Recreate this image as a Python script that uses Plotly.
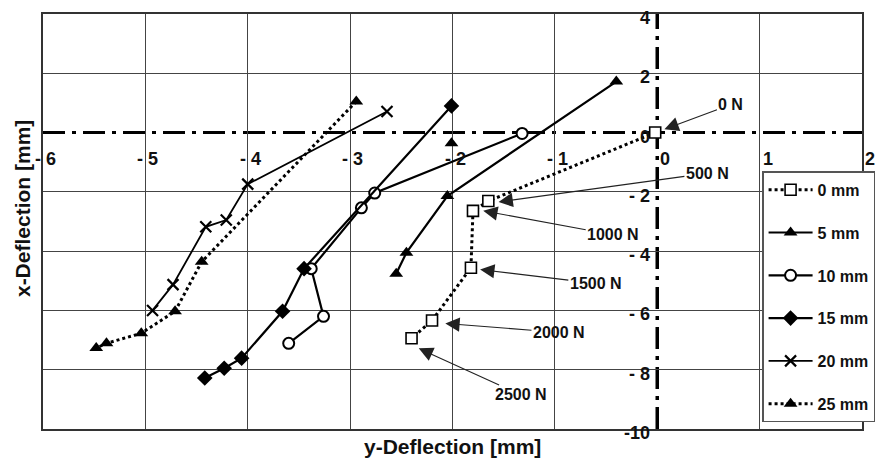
import plotly.graph_objects as go

# ---------------- data (y-deflection, x-deflection) in mm ----------------
mm0_y = [-0.02, -1.65, -1.80, -1.82, -2.20, -2.40]
mm0_x = [0.00, -2.31, -2.64, -4.56, -6.34, -6.94]

mm5_y = [-2.01, None, -0.40, -2.05, -2.45, -2.55]
mm5_x = [-0.36, None, 1.72, -2.14, -4.05, -4.76]

mm10_y = [-1.32, -2.76, -2.89, -3.38, -3.26, -3.60]
mm10_x = [-0.03, -2.04, -2.54, -4.59, -6.20, -7.11]

mm15_y = [-2.01, -3.45, -3.66, -4.06, -4.23, -4.42]
mm15_x = [0.90, -4.59, -6.03, -7.61, -7.95, -8.28]

mm20_y = [-2.64, -4.00, -4.21, -4.41, -4.73, -4.93]
mm20_x = [0.71, -1.74, -2.95, -3.18, -5.13, -6.00]

mm25_y = [-2.94, -4.45, -4.71, -5.04, -5.38, -5.48]
mm25_x = [1.05, -4.36, -6.03, -6.77, -7.11, -7.27]

series_names = ["0 mm", "5 mm", "10 mm", "15 mm", "20 mm", "25 mm"]

# load annotations: label, tip (y-defl, x-defl), text centre (y-defl, x-defl)
load_labels = ["0 N", "500 N", "1000 N", "1500 N", "2000 N", "2500 N"]
load_tip_y = [0.07, -1.55, -1.70, -1.73, -2.07, -2.33]
load_tip_x = [0.11, -2.34, -2.64, -4.62, -6.44, -7.28]
load_txt_y = [0.72, 0.49, -0.43, -0.60, -0.96, -1.33]
load_txt_x = [0.95, -1.37, -3.45, -5.09, -6.74, -8.85]

xtick_vals = [-6, -5, -4, -3, -2, -1, 0, 1, 2]
xtick_text = ["- 6", "- 5", "- 4", "- 3", "- 2", "- 1", "0", "1", "2"]
ytick_vals = [4, 2, 0, -2, -4, -6, -8, -10]
ytick_text = ["4", "2", "0", "- 2", "- 4", "- 6", "- 8", "-10"]

FONT = "Liberation Sans, Arial, Helvetica, sans-serif"
BLACK = "#000000"

fig = go.Figure()

styles = [
    (mm0_y, mm0_x, dict(color=BLACK, width=3, dash="dot"),
     dict(symbol="square", size=11, color="white", line=dict(color=BLACK, width=1.6))),
    (mm5_y, mm5_x, dict(color=BLACK, width=2.2),
     dict(symbol="triangle-up", size=12, color=BLACK)),
    (mm10_y, mm10_x, dict(color=BLACK, width=2.2),
     dict(symbol="circle", size=11, color="white", line=dict(color=BLACK, width=2))),
    (mm15_y, mm15_x, dict(color=BLACK, width=2.2),
     dict(symbol="diamond", size=12, color=BLACK)),
    (mm20_y, mm20_x, dict(color=BLACK, width=1.8),
     dict(symbol="x-thin", size=11, color=BLACK, line=dict(color=BLACK, width=2.2))),
    (mm25_y, mm25_x, dict(color=BLACK, width=3, dash="dot"),
     dict(symbol="triangle-up", size=12, color=BLACK)),
]
for name, (xs, ys, ln, mk) in zip(series_names, styles):
    fig.add_trace(go.Scatter(x=xs, y=ys, mode="lines+markers", name=name,
                             legendgroup=name, line=ln, marker=mk,
                             connectgaps=False))

# dash-dot axes through the origin
DD = "22px,7px,4px,7px"
fig.add_shape(type="line", xref="x", yref="y", x0=-6, x1=2, y0=0, y1=0,
              line=dict(color=BLACK, width=3, dash=DD), layer="below")
fig.add_shape(type="line", xref="x", yref="y", x0=0, x1=0, y0=-10, y1=4,
              line=dict(color=BLACK, width=3.5, dash=DD), layer="below")

ann = []
tf = dict(family=FONT, size=18, color="#111", weight="bold")
for v, t in zip(xtick_vals, xtick_text):
    ann.append(dict(x=v, y=0, xref="x", yref="y", text=t, showarrow=False,
                    xanchor="right", yanchor="middle", xshift=15, yshift=-26,
                    font=tf))
for v, t in zip(ytick_vals, ytick_text):
    ann.append(dict(x=0, y=v, xref="x", yref="y", text=t, showarrow=False,
                    xanchor="right", yanchor="middle", xshift=-5, yshift=-4,
                    font=tf))
lf = dict(family=FONT, size=16, color="#111", weight="bold")
for lab, tx, ty, ax, ay in zip(load_labels, load_tip_y, load_tip_x, load_txt_y, load_txt_x):
    ann.append(dict(x=tx, y=ty, ax=ax, ay=ay, xref="x", yref="y", axref="x", ayref="y",
                    text=lab, showarrow=True, arrowhead=2, arrowsize=2.6, arrowwidth=1.1,
                    arrowcolor="#222", standoff=0, font=lf))
# axis titles
ann.append(dict(x=0.5, y=0, xref="paper", yref="paper", yshift=-17, yanchor="middle",
                text="y-Deflection [mm]", showarrow=False,
                font=dict(family=FONT, size=21, color="#111", weight="bold")))
ann.append(dict(x=0, y=0.53, xref="paper", yref="paper", xshift=-21, xanchor="center",
                text="x-Deflection [mm]", showarrow=False, textangle=-90,
                font=dict(family=FONT, size=21, color="#111", weight="bold")))

fig.update_layout(
    width=887, height=462,
    margin=dict(l=43, r=22, t=12, b=33),
    paper_bgcolor="white", plot_bgcolor="white",
    annotations=ann,
    showlegend=True,
    legend=dict(x=0.878, y=0.621, xanchor="left", yanchor="top",
                bgcolor="white", bordercolor="#555", borderwidth=1.5,
                font=dict(family=FONT, size=16, color="#111", weight="bold"),
                tracegroupgap=19, itemwidth=44, traceorder="grouped"),
)
fig.update_xaxes(range=[-6, 2], tickvals=[-6, -5, -4, -3, -2, -1, 1, 2],
                 showticklabels=False, ticks="", showgrid=True,
                 gridcolor="#444", gridwidth=1.4, zeroline=False,
                 showline=True, mirror=True, linecolor="#333", linewidth=2)
fig.update_yaxes(range=[-10, 4], tickvals=[-10, -8, -6, -4, -2, 2, 4],
                 showticklabels=False, ticks="", showgrid=True,
                 gridcolor="#444", gridwidth=1.4, zeroline=False,
                 showline=True, mirror=True, linecolor="#333", linewidth=2)

fig.write_html("out.html", config={"displayModeBar": False},
               post_script="document.body.style.margin='0px';")
